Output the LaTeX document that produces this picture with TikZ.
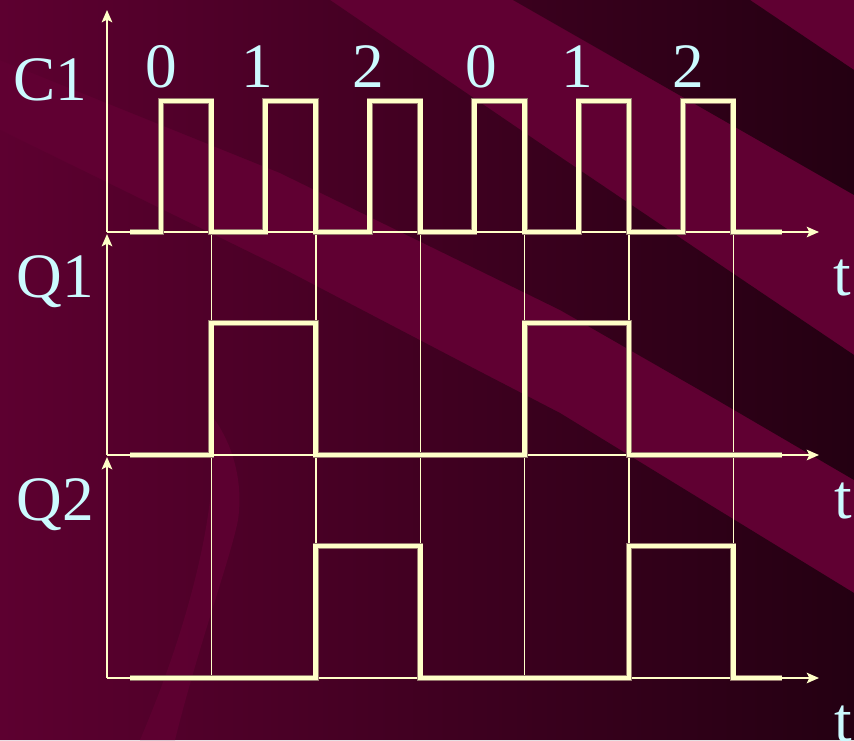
\documentclass[tikz,border=0pt]{standalone}
\usepackage{fontspec}
\setmainfont{Liberation Serif}
\usetikzlibrary{arrows.meta}
\definecolor{wine}{RGB}{96,0,50}
\definecolor{wineleft}{RGB}{93,0,48}
\definecolor{winedark}{RGB}{36,0,18}
\definecolor{cream}{RGB}{255,255,200}
\definecolor{creamedge}{RGB}{150,120,110}
\definecolor{icecyan}{RGB}{204,250,255}

\begin{document}
\begin{tikzpicture}[x=0.02cm,y=-0.02cm,>={Stealth[length=7pt,width=6pt,inset=1.5pt]}]
  \tikzstyle{axis}=[draw=cream,line width=1.1pt,->]
  \tikzstyle{gridline}=[draw=cream,line width=0.8pt]
  \tikzstyle{wave}=[preaction={draw=creamedge,line width=3.5pt},draw=cream,line width=2.8pt,line join=miter]
  \tikzstyle{lbl}=[text=icecyan,font=\fontsize{36}{40}\selectfont,anchor=base,inner sep=0pt]
  \useasboundingbox (0,0) rectangle (854,740);
  \clip (0,0) rectangle (854,740);
  % background
  \fill[wine] (0,0) rectangle (854,740);
  \begin{scope}
    \clip (513,0) -- (750,0) -- (854,70) -- (854,195) -- cycle
          (0,0) -- (330,0) -- (550,150) -- (854,355) -- (854,480) -- (717,400) -- (560,310) -- (280,173) -- (0,60) -- cycle
          (0,130) -- (280,267) -- (477,370) -- (560,413) -- (854,593) -- (854,740) -- (0,740) -- cycle;
    \shade[left color=wineleft,right color=winedark] (0,0) rectangle (854,740);
  \end{scope}
  \fill[wine,opacity=0.8] (175,740) .. controls (200,640) and (230,560) .. (238,520)
    .. controls (245,470) and (225,430) .. (207,410)
    .. controls (225,470) and (200,600) .. (140,740) -- cycle;
  % axes
  \coordinate (o1) at (107,232);
  \coordinate (o2) at (107,455);
  \coordinate (o3) at (107,678);
  \coordinate (v1) at (107,10);
  \coordinate (v2) at (107,234);
  \coordinate (v3) at (107,457);
  \coordinate (h1) at (819,232);
  \coordinate (h2) at (819,455);
  \coordinate (h3) at (819,678);
  \foreach \i in {1,2,3} {
    \draw[axis] (o\i) -- (v\i);
    \draw[axis] (o\i) -- (h\i);
  }
  \foreach \k in {0,...,5}
    \draw[gridline] ({211.4+104.4*\k},232) -- ({211.4+104.4*\k},678);
  % waveforms
  \draw[wave] (130,232) foreach \k in {0,...,5} {
      -- ({161+104.4*\k},232) -- ({161+104.4*\k},101)
      -- ({211.4+104.4*\k},101) -- ({211.4+104.4*\k},232) } -- (782,232);
  \draw[wave] (130,455) -- (211.4,455) -- (211.4,323) -- (315.8,323) -- (315.8,455)
    -- (524.6,455) -- (524.6,323) -- (629,323) -- (629,455) -- (782,455);
  \draw[wave] (130,678) -- (315.8,678) -- (315.8,546) -- (420.2,546) -- (420.2,678)
    -- (629,678) -- (629,546) -- (733.4,546) -- (733.4,678) -- (782,678);
  % labels
  \node[lbl] (c1lbl) at (50,100) {C1};
  \node[lbl] (q1lbl) at (55,297) {Q1};
  \node[lbl] (q2lbl) at (55,520) {Q2};
  \node[lbl] (t1lbl) at (842,295) {t};
  \node[lbl] (t2lbl) at (843,518) {t};
  \node[lbl] (t3lbl) at (843,741) {t};
  \foreach \n/\x in {0/161,1/257,2/368,0/481,1/577,2/688}
    \node[lbl] (cnt\x) at (\x,88) {\n};
\end{tikzpicture}
\end{document}
